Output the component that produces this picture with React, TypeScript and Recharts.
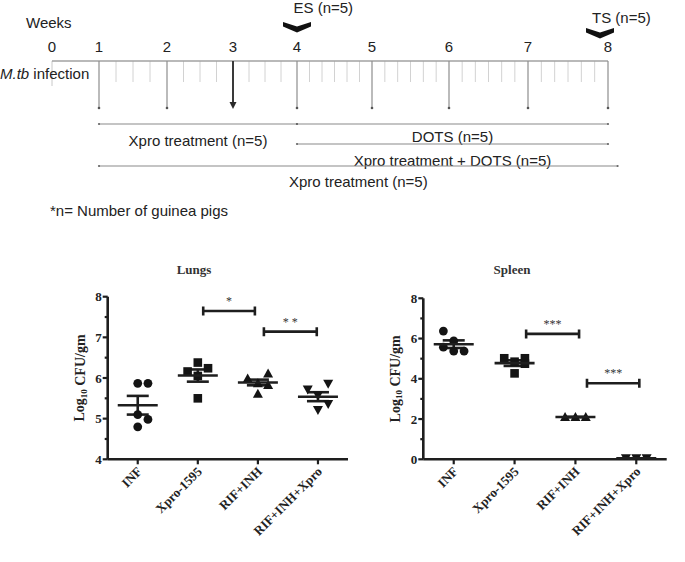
import React from 'react';
import {
  ComposedChart,
  ScatterChart,
  Scatter,
  Line,
  XAxis,
  YAxis,
  ReferenceLine,
  ReferenceDot,
  ErrorBar,
} from 'recharts';

// ---------- study timeline ----------
const weeks = [0, 1, 2, 3, 4, 5, 6, 7, 8];
const arrowWeek = 3;
const samplingLabels = ['ES  (n=5)', 'TS (n=5)'];
const samplingWeeks = [4, 7.9];
const phaseLabels = ['Xpro treatment (n=5)', 'DOTS (n=5)', 'Xpro treatment + DOTS (n=5)', 'Xpro treatment (n=5)'];
const phaseStart = [1, 4, 4, 1];
const phaseEnd = [4, 8, 8, 8.12];
const minorPerWeek = [0, 4, 4, 4, 6, 6, 6, 6];

// ---------- CFU counts ----------
const groups = ['INF', 'Xpro-1595', 'RIF+INH', 'RIF+INH+Xpro'];
const markers = ['circle', 'square', 'triangle', 'down'];

const lungsValues = [
  [5.87, 5.87, 5.1, 4.98, 4.8],
  [6.38, 6.24, 6.16, 6.05, 5.5],
  [5.99, 6.11, 5.87, 5.83, 5.61],
  [5.72, 5.86, 5.57, 5.36, 5.21],
];
const lungsSlots = [
  [0, 1, 0, 1, 0],
  [0, 1, -1, 0, 0],
  [-1, 1, 0, 1, 0],
  [-1, 1, 0, 1, 0],
];
const lungsMean = [5.33, 6.06, 5.89, 5.54];
const lungsSem = [0.23, 0.15, 0.07, 0.11];
const lungsTicks = [4, 4.5, 5, 5.5, 6, 6.5, 7, 7.5, 8];
const lungsBracketFrom = [1.09, 2.1];
const lungsBracketTo = [1.95, 2.98];
const lungsBracketY = [7.65, 7.14];
const lungsBracketLabel = ['*', '* *'];

const spleenValues = [
  [6.37, 5.88, 5.57, 5.38, 5.38],
  [5.02, 4.85, 5.02, 4.75, 4.27],
  [2.1, 2.1, 2.1],
  [0.05, 0.05, 0.05],
];
const spleenSlots = [
  [-1, 0, -1, 0, 1],
  [-1, 0, 1, 1, 0],
  [-1, 0, 1],
  [-1, 0, 1],
];
const spleenMean = [5.72, 4.78, 2.1, 0.05];
const spleenSem = [0.19, 0.14, 0.01, 0];
const spleenTicks = [0, 1, 2, 3, 4, 5, 6, 7, 8];
const spleenBracketFrom = [1.19, 2.19];
const spleenBracketTo = [2.06, 3.05];
const spleenBracketY = [6.23, 3.78];
const spleenBracketLabel = ['***', '***'];

// ---------- layout ----------
const sans = '"Liberation Sans", Arial, Helvetica, sans-serif';
const serif = '"Liberation Serif", "Times New Roman", serif';
const ink = '#1e1e1e';
const jitter = 0.17;

// the schematic is not drawn to scale: page x of each week mark
const weekAnchorPx = [52, 99, 167, 233, 297, 372, 449, 528, 608, 624];
const weekAnchorVal = [...weeks, 8.2];
const rowY = { axis: 61, minorEnd: 82, zeroEnd: 86, guideEnd: 108 };
const phaseLineY = [124, 124, 144, 166];
const phaseTextY = [140, 136, 160, 181];
const chevronTopY = [22, 28];
const samplingTextDx = [-3.5, -8];
const samplingTextY = [7, 17];

// week -> position along the drawn line (0..1), fed to a linear x axis
const pxSpan = weekAnchorPx[weekAnchorPx.length - 1] - weekAnchorPx[0];
function drawn(w: number) {
  let i = 0;
  while (i < weekAnchorVal.length - 2 && w > weekAnchorVal[i + 1]) i++;
  const t = (w - weekAnchorVal[i]) / (weekAnchorVal[i + 1] - weekAnchorVal[i]);
  const px = weekAnchorPx[i] + t * (weekAnchorPx[i + 1] - weekAnchorPx[i]);
  return (px - weekAnchorPx[0]) / pxSpan;
}

const minorWeeks: number[] = [];
minorPerWeek.forEach((n, w) => {
  for (let k = 1; k < n; k++) minorWeeks.push(w + k / n);
});

const timelineData = [
  { pos: drawn(0), row: rowY.axis },
  { pos: drawn(8), row: rowY.axis },
];

const textStyle = { fontFamily: sans, fontSize: 15, fill: '#222' };

function GuideShape(props: any) {
  const { x1, y1, x2, y2 } = props;
  return (
    <g>
      <line x1={x1} y1={y1} x2={x2} y2={y2} stroke="#8e8e8e" strokeWidth={1.2} />
      <circle cx={x2} cy={y2} r={1.3} fill="#555" />
    </g>
  );
}

function ArrowShape(props: any) {
  const { x1, y1, x2, y2 } = props;
  return (
    <g>
      <line x1={x1} y1={y1} x2={x2} y2={y2 - 4} stroke="#3a3a3a" strokeWidth={2} />
      <path d={`M${x2 - 3.5},${y2 - 6} L${x2 + 3.5},${y2 - 6} L${x2},${y2 + 1} Z`} fill="#2a2a2a" />
    </g>
  );
}

function PhaseShape(props: any) {
  const { x1, y1, x2, y2 } = props;
  return (
    <g>
      <line x1={x1} y1={y1} x2={x2} y2={y2} stroke="#8a8a8a" strokeWidth={1.2} />
      <circle cx={x1} cy={y1} r={1.1} fill="#666" />
      <circle cx={x2} cy={y2} r={1.1} fill="#666" />
    </g>
  );
}

function PhaseText({ viewBox, text, dy }: any) {
  if (!viewBox) return null;
  const { x, y, width } = viewBox;
  return (
    <text x={x + width / 2} y={y + dy} textAnchor="middle" dominantBaseline="central" style={textStyle}>
      {text}
    </text>
  );
}

function Chevron({ cx, cy, text, dx, textY }: any) {
  if (cx == null || cy == null) return null;
  return (
    <g>
      <path
        d={`M${cx - 14},${cy} L${cx},${cy + 4.5} L${cx + 14},${cy} L${cx + 14},${cy + 4.5} L${cx},${cy + 10.5} L${cx - 14},${cy + 4.5} Z`}
        fill="#111"
      />
      <text x={cx + dx} y={textY} textAnchor="start" dominantBaseline="central" style={textStyle}>
        {text}
      </text>
    </g>
  );
}

function Timeline() {
  return (
    <ComposedChart
      width={685}
      height={250}
      data={timelineData}
      margin={{ top: 0, right: 685 - weekAnchorPx[weekAnchorPx.length - 1], bottom: 0, left: weekAnchorPx[0] }}
    >
      <XAxis dataKey="pos" type="number" domain={[0, 1]} allowDataOverflow hide />
      <YAxis type="number" domain={[0, 250]} allowDataOverflow reversed hide />
      {minorWeeks.map((w) => (
        <ReferenceLine
          key={`m${w}`}
          segment={[{ x: drawn(w), y: rowY.axis }, { x: drawn(w), y: rowY.minorEnd }]}
          stroke="#d2d2d2"
          strokeWidth={1}
          ifOverflow="visible"
        />
      ))}
      <ReferenceLine
        segment={[{ x: drawn(0), y: rowY.axis }, { x: drawn(0), y: rowY.zeroEnd }]}
        stroke="#c8c8c8"
        strokeWidth={1}
        ifOverflow="visible"
        label={{ value: '0', position: 'top', offset: 9, ...textStyle }}
      />
      <Line dataKey="row" stroke="#a2a2a2" strokeWidth={1.6} dot={false} activeDot={false} isAnimationActive={false} />
      {weeks.slice(1).map((w) => (
        <ReferenceLine
          key={`g${w}`}
          segment={[{ x: drawn(w), y: rowY.axis }, { x: drawn(w), y: rowY.guideEnd }]}
          shape={w === arrowWeek ? ArrowShape : GuideShape}
          ifOverflow="visible"
          label={{ value: String(w), position: 'top', offset: 9, ...textStyle }}
        />
      ))}
      {phaseLabels.map((p, i) => (
        <ReferenceLine
          key={`p${i}`}
          segment={[{ x: drawn(phaseStart[i]), y: phaseLineY[i] }, { x: drawn(phaseEnd[i]), y: phaseLineY[i] }]}
          shape={PhaseShape}
          ifOverflow="visible"
          label={<PhaseText text={p} dy={phaseTextY[i] - phaseLineY[i]} />}
        />
      ))}
      {samplingLabels.map((s, i) => (
        <ReferenceDot
          key={s}
          x={drawn(samplingWeeks[i])}
          y={chevronTopY[i]}
          ifOverflow="visible"
          shape={(p: any) => <Chevron {...p} text={s} dx={samplingTextDx[i]} textY={samplingTextY[i]} />}
        />
      ))}
    </ComposedChart>
  );
}

// ---------- CFU panels ----------
function Marker({ cx, cy, kind }: any) {
  if (cx == null || cy == null) return null;
  const c = '#141414';
  if (kind === 'circle') return <circle cx={cx} cy={cy} r={4.4} fill={c} />;
  if (kind === 'square') return <rect x={cx - 4.3} y={cy - 4.3} width={8.6} height={8.6} fill={c} />;
  if (kind === 'triangle') return <path d={`M${cx},${cy - 5} L${cx + 5},${cy + 4} L${cx - 5},${cy + 4} Z`} fill={c} />;
  return <path d={`M${cx - 5},${cy - 4} L${cx + 5},${cy - 4} L${cx},${cy + 5} Z`} fill={c} />;
}

function MeanLine({ cx, cy }: any) {
  if (cx == null || cy == null) return null;
  return <line x1={cx - 20} x2={cx + 20} y1={cy} y2={cy} stroke={ink} strokeWidth={2.6} />;
}

function Bracket(props: any) {
  const { x1, x2, y1 } = props;
  return (
    <path
      d={`M${x1},${y1 - 4.5}V${y1 + 4.5}M${x1},${y1}H${x2}M${x2},${y1 - 4.5}V${y1 + 4.5}`}
      stroke={ink}
      strokeWidth={2.6}
      fill="none"
    />
  );
}

function XTick({ x, y, payload }: any) {
  const axisY = y - 7;
  const ax = x + 5;
  const ay = axisY + 13;
  return (
    <g>
      <line x1={x} x2={x} y1={axisY} y2={axisY + 5} stroke={ink} strokeWidth={2.2} />
      <text
        x={ax}
        y={ay}
        transform={`rotate(-45, ${ax}, ${ay})`}
        textAnchor="end"
        style={{ fontFamily: serif, fontWeight: 700, fontSize: 13, fill: '#222' }}
      >
        {groups[payload.value]}
      </text>
    </g>
  );
}

function YTick({ x, y, payload, step }: any) {
  const axisX = x + 7;
  const major = payload.value % step === 0;
  return (
    <g>
      <line x1={axisX - (major ? 5 : 3)} x2={axisX} y1={y} y2={y} stroke={ink} strokeWidth={2.2} />
      {major && (
        <text
          x={axisX - 6}
          y={y}
          dy="0.35em"
          textAnchor="end"
          style={{ fontFamily: serif, fontWeight: 700, fontSize: 13, fill: '#222' }}
        >
          {payload.value}
        </text>
      )}
    </g>
  );
}

function AxisTitle({ viewBox }: any) {
  const { x, y, width, height } = viewBox;
  const cx = x + width - 28;
  const cy = y + height / 2;
  return (
    <text
      x={cx}
      y={cy}
      transform={`rotate(-90, ${cx}, ${cy})`}
      textAnchor="middle"
      dominantBaseline="central"
      style={{ fontFamily: serif, fontWeight: 700, fontSize: 14, fill: '#222' }}
    >
      Log
      <tspan fontSize={9} dy={4}>
        10
      </tspan>
      <tspan dy={-4}> CFU/gm</tspan>
    </text>
  );
}

function CfuPanel(props: any) {
  const { margin, yDomain, yTicks, step, values, slots, means, sems, bFrom, bTo, bY, bLabel } = props;
  return (
    <ScatterChart width={340} height={300} margin={margin}>
      <XAxis
        dataKey="x"
        type="number"
        domain={[-0.5, 3.5]}
        ticks={[0, 1, 2, 3]}
        interval={0}
        height={90}
        tickSize={5}
        tickMargin={2}
        tickLine={false}
        tick={<XTick />}
        axisLine={{ stroke: ink, strokeWidth: 2.6 }}
        allowDataOverflow
      />
      <YAxis
        dataKey="y"
        type="number"
        domain={yDomain}
        ticks={yTicks}
        interval={0}
        width={60}
        tickSize={5}
        tickMargin={2}
        tickLine={false}
        tick={<YTick step={step} />}
        axisLine={{ stroke: ink, strokeWidth: 2.6 }}
        allowDataOverflow
        label={<AxisTitle />}
      />
      {groups.map((g, gi) => (
        <Scatter
          key={g}
          name={g}
          data={values[gi].map((v: number, k: number) => ({ x: gi + slots[gi][k] * jitter, y: v }))}
          shape={(p: any) => <Marker {...p} kind={markers[gi]} />}
          isAnimationActive={false}
        />
      ))}
      <Scatter
        name="mean"
        data={means.map((m: number, gi: number) => ({ x: gi, y: m, sem: sems[gi] }))}
        shape={MeanLine}
        isAnimationActive={false}
      >
        <ErrorBar dataKey="sem" direction="y" width={11} stroke={ink} strokeWidth={2.6} isAnimationActive={false} />
      </Scatter>
      {bLabel.map((l: string, i: number) => (
        <ReferenceLine
          key={`b${i}`}
          segment={[{ x: bFrom[i], y: bY[i] }, { x: bTo[i], y: bY[i] }]}
          shape={Bracket}
          ifOverflow="visible"
          label={{ value: l, position: 'top', offset: 6, fill: '#333', fontSize: 12, fontFamily: serif }}
        />
      ))}
    </ScatterChart>
  );
}

const titleStyle: React.CSSProperties = {
  position: 'absolute',
  fontFamily: serif,
  fontWeight: 700,
  fontSize: 13,
  color: '#333',
  lineHeight: '16px',
  transform: 'translateX(-50%)',
  whiteSpace: 'nowrap',
};

export default function App() {
  return (
    <div style={{ position: 'absolute', left: 0, top: 0, width: 685, height: 562, background: '#fff', overflow: 'hidden' }}>
      <div style={{ position: 'absolute', left: 0, top: 0 }}>
        <Timeline />
      </div>
      <div style={{ position: 'absolute', left: 26, top: 14, fontFamily: sans, fontSize: 15, color: '#222', lineHeight: '18px' }}>
        Weeks
      </div>
      <div style={{ position: 'absolute', left: 0, top: 65, fontFamily: sans, fontSize: 15, color: '#222', lineHeight: '18px', whiteSpace: 'nowrap' }}>
        <i>M.tb</i> infection
      </div>
      <div style={{ position: 'absolute', left: 50, top: 202, fontFamily: sans, fontSize: 15, color: '#222', lineHeight: '18px', whiteSpace: 'nowrap' }}>
        *n= Number of guinea pigs
      </div>

      <div style={{ ...titleStyle, left: 194, top: 262 }}>Lungs</div>
      <div style={{ ...titleStyle, left: 512, top: 262 }}>Spleen</div>

      <div style={{ position: 'absolute', left: 20, top: 250 }}>
        <CfuPanel
          margin={{ top: 46.7, right: 12, bottom: 0.7, left: 27.7 }}
          yDomain={[4, 8]}
          yTicks={lungsTicks}
          step={1}
          values={lungsValues}
          slots={lungsSlots}
          means={lungsMean}
          sems={lungsSem}
          bFrom={lungsBracketFrom}
          bTo={lungsBracketTo}
          bY={lungsBracketY}
          bLabel={lungsBracketLabel}
        />
      </div>
      <div style={{ position: 'absolute', left: 340, top: 250 }}>
        <CfuPanel
          margin={{ top: 48.3, right: 13.3, bottom: 0.7, left: 23.3 }}
          yDomain={[0, 8]}
          yTicks={spleenTicks}
          step={2}
          values={spleenValues}
          slots={spleenSlots}
          means={spleenMean}
          sems={spleenSem}
          bFrom={spleenBracketFrom}
          bTo={spleenBracketTo}
          bY={spleenBracketY}
          bLabel={spleenBracketLabel}
        />
      </div>
    </div>
  );
}
